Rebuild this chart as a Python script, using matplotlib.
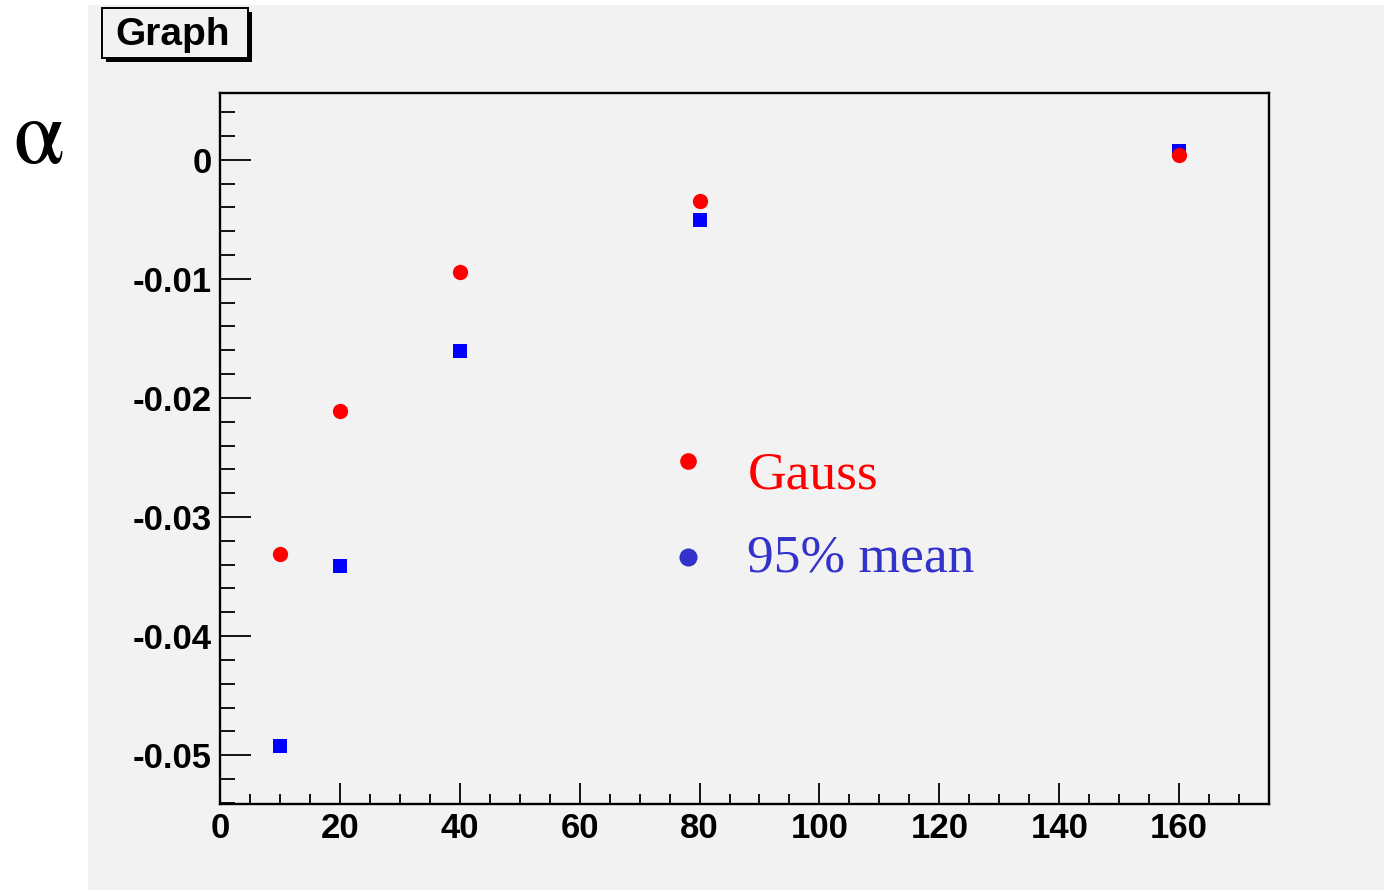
import matplotlib
matplotlib.use('Agg')
import matplotlib.pyplot as plt
from matplotlib.patches import Rectangle
from matplotlib.ticker import MultipleLocator

# data
x_vals = [10, 20, 40, 80, 160]
gauss = [-0.0331, -0.0211, -0.0094, -0.0035, 0.0004]
mean95 = [-0.0492, -0.0341, -0.0161, -0.0051, 0.0007]

W, H = 1384, 890
bg = '#f2f2f2'

fig = plt.figure(figsize=(W / 100, H / 100), dpi=100, facecolor='white')

# grey canvas pad
fig.patches.append(Rectangle((88 / W, 0), 1 - 88 / W, 1 - 5 / H,
                             transform=fig.transFigure, facecolor=bg,
                             edgecolor='none', zorder=-10))

ax = fig.add_axes([220 / W, 1 - 804 / H, (1269 - 220) / W, (804 - 93) / H])
ax.set_zorder(5)
ax.set_facecolor(bg)

ax.plot(x_vals, mean95, linestyle='none', marker='s', markersize=10.5,
        color='#0000ff', markeredgewidth=0, zorder=3)
ax.plot(x_vals, gauss, linestyle='none', marker='o', markersize=11,
        color='#ff0000', markeredgewidth=0, zorder=4)

ax.set_xlim(0, 175)
ax.set_ylim(-0.0541, 0.0056)

ax.xaxis.set_major_locator(MultipleLocator(20))
ax.xaxis.set_minor_locator(MultipleLocator(5))
ax.yaxis.set_major_locator(MultipleLocator(0.01))
ax.yaxis.set_minor_locator(MultipleLocator(0.002))
ax.yaxis.set_major_formatter(plt.FuncFormatter(lambda v, p: '0' if abs(v) < 1e-9 else f'{v:.2f}'))

for s in ax.spines.values():
    s.set_linewidth(1.7)

ax.tick_params(axis='x', which='major', direction='in', length=15, width=1.3, pad=6)
ax.tick_params(axis='x', which='minor', direction='in', length=7.5, width=1.3)
ax.tick_params(axis='y', which='major', direction='in', length=22, width=1.3, pad=6)
ax.tick_params(axis='y', which='minor', direction='in', length=11, width=1.3)
for lab in ax.get_xticklabels() + ax.get_yticklabels():
    lab.set_fontsize(25)
    lab.set_fontweight('bold')
    lab.set_family('Liberation Sans')

# legend drawn by hand, like the ROOT TLatex markers
ax.plot([78.0], [-0.0253], linestyle='none', marker='o', markersize=12,
        color='#ff0000', markeredgewidth=0, clip_on=False)
ax.plot([78.0], [-0.0334], linestyle='none', marker='o', markersize=13,
        color='#3333cc', markeredgewidth=0, clip_on=False)
ax.text(88.0, -0.0276, 'Gauss', color='#ff0000', fontsize=38.5,
        family='Liberation Serif', va='baseline', ha='left')
ax.text(88.0, -0.0346, '95% mean', color='#3333cc', fontsize=38.5,
        family='Liberation Serif', va='baseline', ha='left')

# alpha axis label
fig.text(13 / W, 1 - 163 / H, 'α', fontsize=66, family='STIXGeneral',
         ha='left', va='baseline', color='black')

# title box with shadow
fig.patches.append(Rectangle((106 / W, 1 - 62 / H), 146 / W, 50 / H,
                             transform=fig.transFigure, facecolor='black',
                             edgecolor='none', zorder=1))
fig.patches.append(Rectangle((102 / W, 1 - 58 / H), 146 / W, 50 / H,
                             transform=fig.transFigure, facecolor=bg,
                             edgecolor='black', linewidth=1.4, zorder=2))
fig.text(173 / W, 1 - 35 / H, 'Graph', fontsize=28, fontweight='bold',
         family='Liberation Sans', ha='center', va='center', zorder=3)

fig.savefig('out.png', dpi=100, facecolor=fig.get_facecolor())
